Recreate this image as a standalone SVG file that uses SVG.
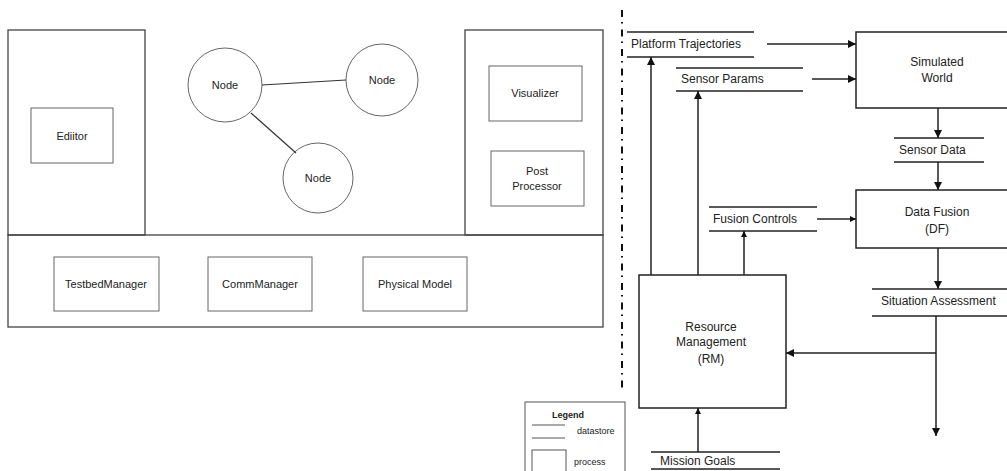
<svg xmlns="http://www.w3.org/2000/svg" width="1007" height="471" viewBox="0 0 1007 471">
<style>
text{font-family:"Liberation Sans",Arial,sans-serif;font-size:11px;fill:#222}
.r{font-size:12px}
.c{text-anchor:middle}
.lb{fill:none;stroke:#444;stroke-width:1.3}
.lt{fill:none;stroke:#666;stroke-width:1}
.rb{fill:none;stroke:#222;stroke-width:1.5}
.ds{stroke:#222;stroke-width:1.5}
.ln{fill:none;stroke:#222;stroke-width:1.5}
.lg{font-size:9px}
</style>
<defs>
<marker id="ah" viewBox="0 0 10 10" refX="10" refY="5" markerWidth="10" markerHeight="8" markerUnits="userSpaceOnUse" orient="auto"><path d="M0,0 L10,5 L0,10 Z" fill="#111"/></marker>
<marker id="ahs" viewBox="0 0 10 10" refX="10" refY="5" markerWidth="8" markerHeight="6" markerUnits="userSpaceOnUse" orient="auto"><path d="M0,0 L10,5 L0,10 Z" fill="#111"/></marker>
</defs>
<rect width="1007" height="471" fill="#fff"/>
<g id="left">
<g id="editor-panel"><rect class="lb" x="8" y="30" width="137" height="205"/></g>
<g id="editor"><rect class="lt" x="31" y="108" width="82" height="55"/><text class="c" x="72" y="140">Ediitor</text></g>
<g id="viz-panel"><rect class="lb" x="465" y="30" width="138" height="205"/></g>
<g id="visualizer"><rect class="lt" x="489" y="66" width="93" height="55"/><text class="c" x="535" y="97">Visualizer</text></g>
<g id="postproc"><rect class="lt" x="491" y="151" width="93" height="55"/><text class="c" x="537" y="175">Post</text><text class="c" x="537" y="190">Processor</text></g>
<g id="base-panel"><rect class="lb" x="8" y="235" width="595" height="92"/></g>
<g id="testbed"><rect class="lt" x="54" y="257" width="105" height="54"/><text class="c" x="106" y="288">TestbedManager</text></g>
<g id="comm"><rect class="lt" x="208" y="257" width="104" height="54"/><text class="c" x="260" y="288">CommManager</text></g>
<g id="physical"><rect class="lt" x="363" y="257" width="104" height="54"/><text class="c" x="415" y="288">Physical Model</text></g>
<g id="node1"><circle class="lt" cx="225" cy="85" r="37"/><text class="c" x="225" y="89">Node</text></g>
<g id="node2"><circle class="lt" cx="382" cy="80" r="36"/><text class="c" x="382" y="84">Node</text></g>
<g id="node3"><circle class="lt" cx="318" cy="178" r="35"/><text class="c" x="318" y="182">Node</text></g>
<g id="node-links"><line x1="262" y1="85" x2="346" y2="80" stroke="#333" stroke-width="1.2"/><line x1="251" y1="113" x2="296" y2="153" stroke="#333" stroke-width="1.2"/></g>
</g>
<g id="divider"><line x1="622" y1="10" x2="622" y2="390" stroke="#111" stroke-width="2" stroke-dasharray="7 5 1.5 6"/></g>
<g id="platform-traj"><line class="ds" x1="627" y1="32" x2="754" y2="32"/><line class="ds" x1="627" y1="57" x2="754" y2="57"/><text class="r" x="631" y="48">Platform Trajectories</text></g>
<g id="sensor-params"><line class="ds" x1="676" y1="68" x2="803" y2="68"/><line class="ds" x1="676" y1="91" x2="803" y2="91"/><text class="r" x="681" y="83">Sensor  Params</text></g>
<g id="sim-world"><rect class="rb" x="856" y="32" width="160" height="76"/><text class="c r" x="937" y="66">Simulated</text><text class="c r" x="937" y="82">World</text></g>
<g id="sensor-data"><line class="ds" x1="894" y1="138" x2="984" y2="138"/><line class="ds" x1="894" y1="162" x2="984" y2="162"/><text class="r" x="899" y="154">Sensor Data</text></g>
<g id="data-fusion"><rect class="rb" x="856" y="190" width="160" height="58"/><text class="c r" x="937" y="216">Data  Fusion</text><text class="c r" x="937" y="233">(DF)</text></g>
<g id="fusion-controls"><line class="ds" x1="709" y1="207" x2="817" y2="207"/><line class="ds" x1="709" y1="231" x2="817" y2="231"/><text class="r" x="713" y="223">Fusion  Controls</text></g>
<g id="situation"><line class="ds" x1="872" y1="289" x2="1010" y2="289"/><line class="ds" x1="872" y1="316" x2="1010" y2="316"/><text class="r" x="881" y="305">Situation Assessment</text></g>
<g id="rm"><rect class="rb" x="639" y="275" width="147" height="133"/><text class="c r" x="711" y="331">Resource</text><text class="c r" x="711" y="346">Management</text><text class="c r" x="711" y="363">(RM)</text></g>
<g id="mission-goals"><line class="ds" x1="651" y1="452" x2="780" y2="452"/><line class="ds" x1="651" y1="469" x2="780" y2="469"/><text class="r" x="660" y="465">Mission Goals</text></g>
<g id="legend"><rect x="525" y="402" width="100" height="80" fill="none" stroke="#555" stroke-width="1"/><text class="c lg" x="568" y="418" style="font-weight:bold">Legend</text><line x1="532" y1="425" x2="565" y2="425" stroke="#555"/><line x1="532" y1="438" x2="565" y2="438" stroke="#555"/><text class="lg" x="577" y="434">datastore</text><rect x="532" y="450" width="34" height="25" fill="none" stroke="#555"/><text class="lg" x="574" y="465">process</text></g>
<g id="connectors">
<line class="ln" x1="767" y1="44" x2="856" y2="44" marker-end="url(#ah)"/>
<line class="ln" x1="812" y1="79" x2="856" y2="79" marker-end="url(#ah)"/>
<line class="ln" x1="938" y1="108" x2="938" y2="138" marker-end="url(#ah)"/>
<line class="ln" x1="938" y1="162" x2="938" y2="190" marker-end="url(#ah)"/>
<line class="ln" x1="817" y1="219" x2="856" y2="219" marker-end="url(#ahs)"/>
<line class="ln" x1="938" y1="248" x2="938" y2="289" marker-end="url(#ah)"/>
<line class="ln" x1="936" y1="316" x2="936" y2="436" marker-end="url(#ah)"/>
<line class="ln" x1="936" y1="353" x2="786" y2="353" marker-end="url(#ah)"/>
<line class="ln" x1="651" y1="275" x2="651" y2="57" marker-end="url(#ah)"/>
<line class="ln" x1="698" y1="275" x2="698" y2="91" marker-end="url(#ah)"/>
<line class="ln" x1="744" y1="275" x2="744" y2="231" marker-end="url(#ahs)"/>
<line class="ln" x1="698" y1="452" x2="698" y2="408" marker-end="url(#ahs)"/>
</g>
</svg>
